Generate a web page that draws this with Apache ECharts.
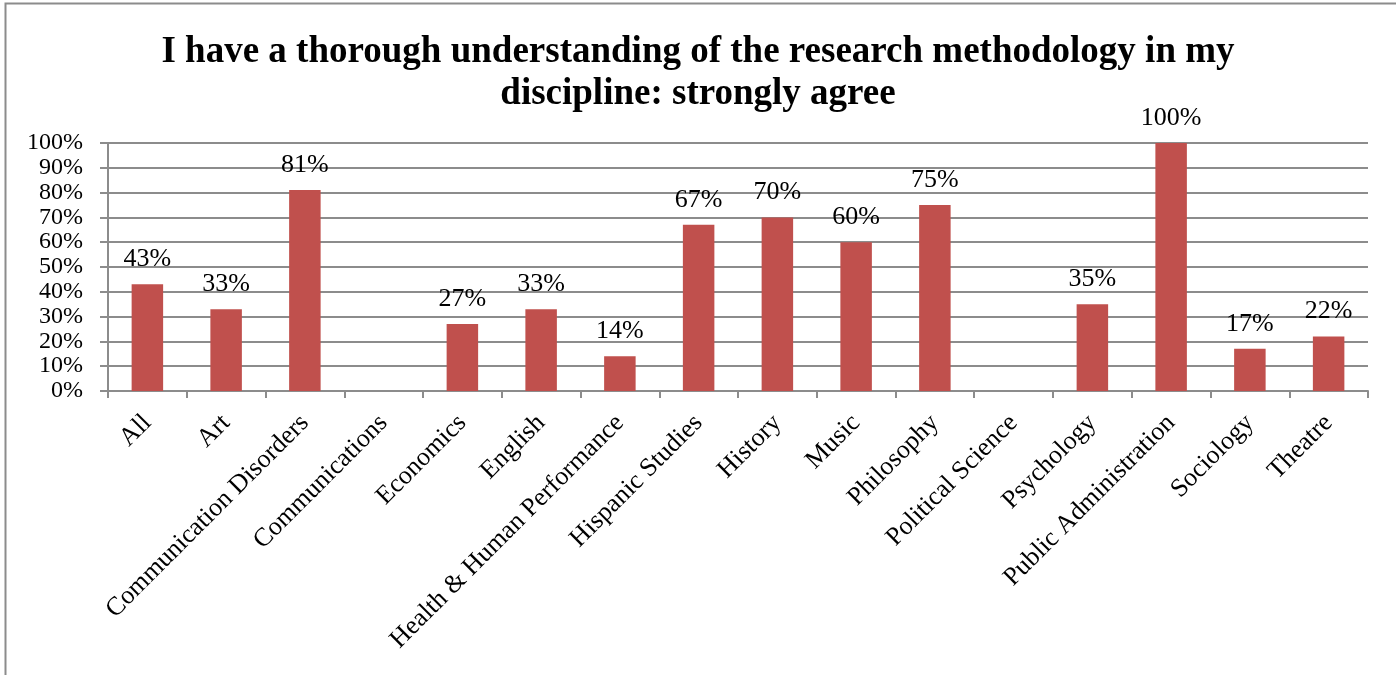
<!DOCTYPE html>
<html><head><meta charset="utf-8">
<script src="https://cdn.jsdelivr.net/npm/echarts@6/dist/echarts.min.js"></script>
<style>html,body{margin:0;padding:0;background:#fff}#c{width:1396px;height:675px}</style>
</head><body><div id="c"></div>
<script>
const titleText = 'I have a thorough understanding of the research methodology in my\ndiscipline: strongly agree';
const categories = ['All','Art','Communication Disorders','Communications','Economics','English','Health & Human Performance','Hispanic Studies','History','Music','Philosophy','Political Science','Psychology','Public Administration','Sociology','Theatre'];
const values = [43,33,81,null,27,33,14,67,70,60,75,null,35,100,17,22];
const yTicks = [0,10,20,30,40,50,60,70,80,90,100];

const font = '"Liberation Serif","Times New Roman",serif';
const chart = echarts.init(document.getElementById('c'), null, {renderer:'canvas'});
chart.setOption({
  animation:false,
  graphic:[{type:'rect',shape:{x:5.5,y:3.5,width:1500,height:800},style:{fill:'none',stroke:'#8c8c8c',lineWidth:2},silent:true,z:-1}],
  title:{text:titleText,left:'center',top:26,textStyle:{fontFamily:font,fontSize:37,fontWeight:'bold',color:'#000',lineHeight:42}},
  grid:{left:108,right:28,top:143,bottom:284,containLabel:false},
  xAxis:{type:'category',data:categories,
    axisLine:{lineStyle:{color:'#8c8c8c',width:2}},
    axisTick:{show:true,alignWithLabel:false,length:7,lineStyle:{color:'#8c8c8c',width:2}},
    axisLabel:{rotate:45,interval:0,fontFamily:font,fontSize:26,color:'#000',margin:28,hideOverlap:false}},
  yAxis:{type:'value',min:0,max:100,interval:10,
    axisLine:{show:true,lineStyle:{color:'#8c8c8c',width:2}},
    axisTick:{show:true,length:8,lineStyle:{color:'#8c8c8c',width:2}},
    splitLine:{lineStyle:{color:'#8c8c8c',width:2}},
    axisLabel:{formatter:v=>v+'%',fontFamily:font,fontSize:24,color:'#000',margin:25,lineHeight:24,hideOverlap:false,showMinLabel:true,showMaxLabel:true,customValues:yTicks}},
  series:[{type:'bar',data:values,barWidth:'40%',
    itemStyle:{color:'#C0504D'},
    label:{show:true,position:'top',distance:12,formatter:p=>p.value==null?'':p.value+'%',fontFamily:font,fontSize:26,color:'#000'}}]
});
</script></body></html>
